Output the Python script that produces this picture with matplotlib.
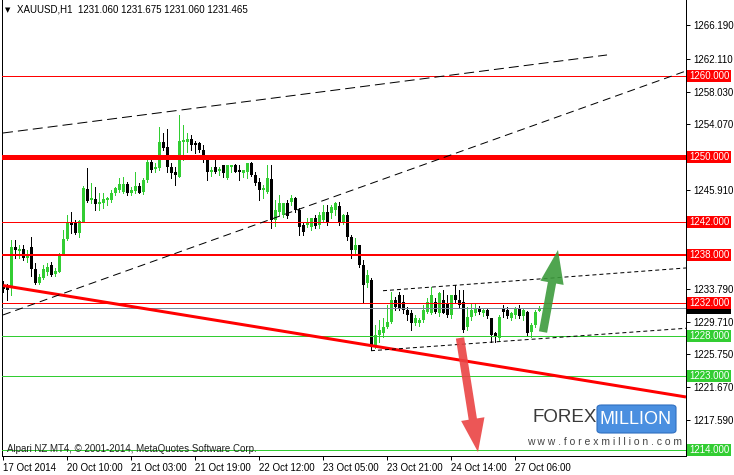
import matplotlib
matplotlib.use("Agg")
import matplotlib.pyplot as plt
import matplotlib.transforms as mtransforms
from matplotlib.patches import FancyBboxPatch, Rectangle

plt.rcParams['font.family'] = ['Liberation Sans', 'DejaVu Sans']

# XAUUSD H1 candles, one per bar starting 17 Oct 2014
opens = [1234.26, 1234.13, 1233.89, 1238.93, 1238.44, 1238.68, 1237.58, 1238.93, 1236.22, 1234.50,
         1235.12, 1235.85, 1236.72, 1235.61, 1235.85, 1238.07, 1239.91, 1241.88, 1241.88, 1240.65,
         1242.00, 1246.06, 1244.71, 1244.83, 1244.22, 1244.34, 1244.71, 1244.71, 1245.57, 1245.94,
         1245.69, 1246.68, 1245.57, 1245.82, 1246.43, 1245.69, 1247.17, 1249.38, 1248.52, 1248.65,
         1251.84, 1251.23, 1248.77, 1248.15, 1247.54, 1251.84, 1251.84, 1252.21, 1251.72, 1251.72,
         1250.86, 1249.88, 1248.15, 1248.77, 1248.28, 1249.02, 1247.42, 1248.77, 1249.02, 1248.40,
         1248.03, 1248.15, 1249.26, 1247.79, 1246.92, 1245.94, 1245.69, 1247.29, 1242.25, 1243.23,
         1242.87, 1244.34, 1244.46, 1244.96, 1243.48, 1241.64, 1241.64, 1241.39, 1242.50, 1241.64,
         1242.25, 1243.23, 1243.11, 1243.48, 1243.97, 1242.00, 1242.87, 1240.16, 1238.56, 1239.18,
         1236.72, 1234.50, 1234.87, 1226.88, 1228.11, 1228.35, 1229.09, 1229.70, 1232.41, 1233.03,
         1232.16, 1231.18, 1230.81, 1229.58, 1229.58, 1229.95, 1230.93, 1230.81, 1232.16, 1230.81,
         1232.41, 1232.04, 1230.57, 1233.03, 1232.41, 1232.16, 1229.09, 1230.32, 1230.81, 1231.30,
         1230.81, 1231.18, 1230.20, 1228.35, 1227.74, 1231.43, 1231.18, 1230.20, 1230.57, 1231.30,
         1230.44, 1230.93, 1228.47, 1229.34, 1231.06]
highs = [1234.75, 1234.38, 1239.79, 1239.79, 1239.18, 1239.18, 1238.56, 1240.16, 1236.96, 1235.61,
         1236.72, 1236.96, 1237.08, 1236.35, 1238.19, 1241.02, 1242.87, 1243.23, 1242.25, 1242.25,
         1246.43, 1248.65, 1246.80, 1246.31, 1245.57, 1245.57, 1245.08, 1245.94, 1246.31, 1247.42,
         1247.54, 1246.92, 1246.31, 1248.15, 1246.80, 1247.42, 1249.63, 1249.88, 1249.26, 1253.69,
         1252.95, 1253.44, 1249.26, 1248.77, 1255.17, 1253.94, 1252.95, 1252.71, 1251.97, 1251.84,
         1251.48, 1250.25, 1248.77, 1249.63, 1248.77, 1249.02, 1249.02, 1249.02, 1249.14, 1249.02,
         1248.40, 1249.26, 1249.38, 1248.15, 1247.42, 1246.56, 1249.02, 1249.02, 1244.71, 1245.33,
         1244.34, 1244.71, 1245.33, 1245.08, 1243.73, 1242.00, 1242.50, 1242.50, 1242.87, 1243.23,
         1244.10, 1244.10, 1244.10, 1244.46, 1244.46, 1242.99, 1243.23, 1240.41, 1240.04, 1239.18,
         1237.33, 1236.10, 1235.12, 1229.34, 1229.95, 1230.20, 1231.80, 1233.39, 1232.78, 1233.39,
         1233.03, 1231.55, 1231.18, 1230.57, 1230.20, 1231.80, 1232.66, 1234.01, 1232.66, 1233.39,
         1233.64, 1233.03, 1233.03, 1234.26, 1233.64, 1233.64, 1231.55, 1232.04, 1232.04, 1231.67,
         1231.43, 1231.43, 1230.20, 1228.47, 1230.57, 1231.80, 1231.55, 1230.93, 1231.55, 1231.80,
         1231.43, 1231.06, 1229.58, 1231.18, 1231.675]
lows = [1233.39, 1232.41, 1233.03, 1237.58, 1237.58, 1237.33, 1237.08, 1235.36, 1234.38, 1234.38,
        1234.99, 1235.49, 1235.36, 1235.36, 1235.85, 1237.95, 1239.79, 1240.65, 1240.53, 1240.16,
        1242.00, 1244.46, 1244.34, 1243.48, 1243.48, 1243.73, 1244.10, 1244.46, 1245.33, 1245.69,
        1245.57, 1245.33, 1245.33, 1245.57, 1245.57, 1245.45, 1246.92, 1248.15, 1248.15, 1248.40,
        1250.86, 1248.15, 1247.42, 1246.56, 1247.54, 1249.63, 1250.61, 1250.86, 1250.49, 1250.61,
        1249.38, 1247.17, 1247.66, 1248.03, 1247.79, 1247.54, 1247.29, 1248.15, 1248.15, 1247.17,
        1247.54, 1247.42, 1247.66, 1246.56, 1244.71, 1244.96, 1245.57, 1241.27, 1241.51, 1242.87,
        1242.62, 1242.50, 1244.10, 1243.23, 1240.41, 1240.41, 1241.39, 1241.02, 1241.27, 1241.27,
        1242.00, 1241.64, 1242.50, 1242.87, 1241.64, 1241.76, 1239.79, 1237.58, 1238.19, 1236.47,
        1232.16, 1234.01, 1226.26, 1226.51, 1227.24, 1227.86, 1228.97, 1229.58, 1231.18, 1231.18,
        1230.81, 1229.95, 1228.72, 1229.34, 1229.21, 1229.70, 1230.81, 1230.69, 1230.81, 1230.44,
        1230.81, 1230.32, 1230.20, 1232.04, 1231.55, 1228.47, 1228.72, 1229.95, 1230.57, 1230.69,
        1230.44, 1230.20, 1227.24, 1227.24, 1227.49, 1230.32, 1230.20, 1229.95, 1230.20, 1230.20,
        1229.95, 1228.11, 1227.86, 1229.09, 1231.06]
closes = [1233.76, 1233.64, 1238.93, 1238.56, 1238.68, 1237.58, 1237.82, 1236.22, 1234.50, 1235.24,
          1236.22, 1236.47, 1235.49, 1235.98, 1237.95, 1239.91, 1241.88, 1241.64, 1240.65, 1242.13,
          1246.19, 1244.59, 1244.96, 1244.22, 1244.46, 1244.83, 1244.96, 1245.57, 1246.19, 1246.68,
          1246.68, 1245.57, 1245.94, 1246.43, 1245.57, 1247.17, 1249.38, 1248.40, 1248.77, 1251.84,
          1251.11, 1248.77, 1248.03, 1247.79, 1251.97, 1252.09, 1252.21, 1251.48, 1251.48, 1250.86,
          1249.63, 1248.15, 1248.40, 1248.15, 1248.52, 1248.03, 1249.02, 1249.02, 1248.15, 1248.15,
          1248.40, 1249.26, 1247.79, 1246.80, 1245.94, 1246.19, 1247.42, 1242.25, 1243.48, 1244.34,
          1244.34, 1242.74, 1244.96, 1243.48, 1241.39, 1240.77, 1241.88, 1242.50, 1241.51, 1242.87,
          1243.23, 1241.88, 1243.85, 1244.34, 1241.88, 1242.87, 1240.16, 1238.56, 1239.18, 1236.72,
          1234.26, 1235.49, 1226.63, 1228.11, 1228.72, 1229.09, 1229.70, 1232.41, 1231.55, 1231.43,
          1231.18, 1230.57, 1229.58, 1230.20, 1229.95, 1231.18, 1232.16, 1233.03, 1230.93, 1233.27,
          1230.81, 1230.57, 1233.03, 1232.41, 1231.80, 1228.72, 1230.32, 1231.18, 1231.30, 1230.93,
          1231.18, 1230.44, 1228.11, 1227.98, 1230.32, 1230.93, 1230.44, 1230.81, 1231.30, 1230.44,
          1231.18, 1228.35, 1229.34, 1230.93, 1231.465]

date_labels = ['17 Oct 2014', '20 Oct 10:00', '21 Oct 03:00', '21 Oct 19:00', '22 Oct 12:00',
               '23 Oct 05:00', '23 Oct 21:00', '24 Oct 14:00', '27 Oct 06:00']
date_bars = [0, 16, 32, 48, 64, 80, 96, 112, 128]
# scale ticks; the ones under a level label stay unlabelled
price_ticks = [1266.19, 1262.11, 1258.03, 1254.07, 1249.99, 1245.91, 1241.83, 1237.87,
               1233.79, 1229.71, 1225.75, 1221.67, 1217.59]
hidden_ticks = [1249.99, 1241.83, 1237.87]

red_levels = [1260.0, 1250.0, 1242.0, 1238.0, 1232.0]
red_px = [1, 5, 1, 2, 1]
green_levels = [1228.0, 1223.0, 1214.0]
last_price = 1231.465

# trend lines as (bars, prices)
red_trend = ([0, 170.75], [1234.19, 1220.48])
upper_dash = ([0, 151], [1252.95, 1262.55])
lower_dash = ([0, 170.75], [1230.57, 1260.58])
chan_top = ([95, 170.75], [1233.55, 1236.35])
chan_bot = ([92, 170.75], [1226.17, 1228.93])

# arrows (tail -> tip)
green_arrow = ((135.0, 1228.47), (138.75, 1238.56))
red_arrow = ((114.25, 1227.74), (118.75, 1213.71))

BULL = '#32CD32'
PX = 0.72  # one pixel in points at dpi 100
PPU = 8.13  # pixels per price unit

fig = plt.figure(figsize=(7.34, 4.75), dpi=100)
ax = fig.add_axes([2 / 734, 19 / 475, 684 / 734, 456 / 475])
ax.set_xlim(-0.25, 170.75)
ax.set_ylim(1213.22, 1269.31)

for i in range(len(opens)):
    o, h, l, c = opens[i], highs[i], lows[i], closes[i]
    col = BULL if c >= o else 'black'
    ax.vlines(i, l, h, color=col, lw=PX, zorder=2, antialiased=False)
    ax.bar(i, max(abs(c - o), 0.06), bottom=min(o, c), width=0.75, color=col,
           lw=0, zorder=2, antialiased=False)

# levels
for lvl, w in zip(red_levels, red_px):
    ax.axhline(lvl, color='red', lw=w * PX, zorder=4)
for lvl in green_levels:
    ax.axhline(lvl, color=BULL, lw=PX, zorder=4)
ax.axhline(last_price, color='#778899', lw=PX, zorder=3)

# trend lines
ax.plot(*red_trend, color='red', lw=3 * PX, zorder=5, solid_capstyle='butt')
ax.plot(*upper_dash, color='black', lw=PX, dashes=(10, 5), zorder=5)
ax.plot(*lower_dash, color='black', lw=PX, dashes=(8, 5), zorder=5)
ax.plot(*chan_top, color='black', lw=PX, dashes=(4, 3), zorder=5)
ax.plot(*chan_bot, color='black', lw=PX, dashes=(4, 3), zorder=5)

for (tail, tip), col in [(green_arrow, '#3d9b3d'), (red_arrow, '#ea4444')]:
    ax.annotate('', xy=tip, xytext=tail, annotation_clip=False, zorder=6,
                arrowprops=dict(arrowstyle='simple,head_length=2.4,head_width=1.7,tail_width=0.6',
                                mutation_scale=10, fc=col, ec='none', alpha=0.9,
                                shrinkA=0, shrinkB=0))

# axes look
ax.spines['top'].set_visible(False)
for s in ['left', 'right', 'bottom']:
    ax.spines[s].set_linewidth(PX)
ax.yaxis.tick_right()
ax.set_yticks(price_ticks)
ax.set_yticklabels(['' if t in hidden_ticks else '%.3f' % t for t in price_ticks])
ax.set_xticks(date_bars)
ax.set_xticklabels(date_labels)
ax.tick_params(axis='both', direction='out', length=3, width=PX, labelsize=7, pad=2)
for lab in ax.get_xticklabels():
    lab.set_horizontalalignment('left')

# price label boxes on the scale
trans = mtransforms.blended_transform_factory(ax.transAxes, ax.transData)
bx0 = 685 / 684
bw = 44 / 684
bh = 12 / PPU
ax.add_patch(Rectangle((bx0, last_price - bh / 2), bw, bh, transform=trans, fc='black',
                       ec='none', clip_on=False, zorder=8))
for levels, col in [(red_levels, 'red'), (green_levels, BULL)]:
    for lvl in levels:
        ax.add_patch(Rectangle((bx0, lvl - bh / 2), bw, bh, transform=trans, fc=col,
                               ec='none', clip_on=False, zorder=9))
        ax.text(bx0 + bw / 2, lvl, '%.3f' % lvl, transform=trans, ha='center', va='center',
                color='white', fontsize=7, clip_on=False, zorder=10)

# header and footer text
fig.text(5 / 734, 1 - 10 / 475, '\u25bc', fontsize=5, va='center', family=['DejaVu Sans'])
fig.text(17 / 734, 1 - 10 / 475, 'XAUUSD,H1  1231.060 1231.675 1231.060 1231.465',
         fontsize=7, va='center')
fig.text(7 / 734, 1 - 449 / 475, 'Alpari NZ MT4, \u00a9 2001-2014, MetaQuotes Software Corp.',
         fontsize=7, va='center', color='#222222')

# logo
fig.text(533 / 734, 1 - 418 / 475, 'FOREX', fontsize=13.5, va='center', ha='left',
         color='#3a3a3a')
box = FancyBboxPatch((597 / 734, 1 - 433 / 475), 79 / 734, 28 / 475,
                     boxstyle='round,pad=0,rounding_size=0.006', transform=fig.transFigure,
                     fc='#4a8fe0', ec='#2f6fc0', lw=0.8)
fig.patches.append(box)
fig.text(636 / 734, 1 - 419 / 475, 'MILLION', fontsize=13, va='center', ha='center',
         color='white')
fig.text(605 / 734, 1 - 442 / 475, 'w w w . f o r e x m i l l i o n . c o m', fontsize=7.5,
         va='center', ha='center', color='#444444')

fig.savefig('out.png', dpi=100)
